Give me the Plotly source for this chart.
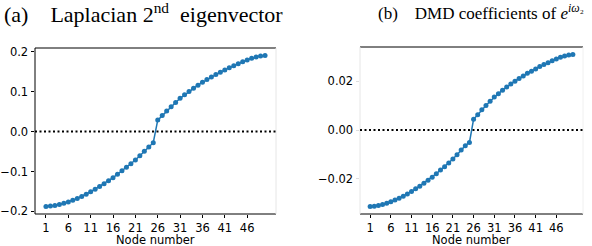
import plotly.graph_objects as go

nodes = list(range(1, 51))
xtick_vals = [1, 6, 11, 16, 21, 26, 31, 36, 41, 46]

laplacian_vec = [
    -0.1875, -0.1866, -0.1850, -0.1826, -0.1797, -0.1762, -0.1721, -0.1675, -0.1624, -0.1568,
    -0.1508, -0.1444, -0.1376, -0.1305, -0.1231, -0.1154, -0.1070, -0.0984, -0.0896, -0.0806,
    -0.0713, -0.0605, -0.0494, -0.0385, -0.0280,
    0.0285, 0.0400, 0.0510, 0.0618, 0.0725, 0.0830, 0.0918, 0.1002, 0.1082, 0.1158,
    0.1230, 0.1298, 0.1362, 0.1424, 0.1484, 0.1540, 0.1596, 0.1648, 0.1698, 0.1746,
    0.1790, 0.1830, 0.1862, 0.1886, 0.1900,
]

dmd_coef = [
    -0.0313, -0.0312, -0.0309, -0.0305, -0.0300, -0.0294, -0.0287, -0.0280, -0.0271, -0.0262,
    -0.0252, -0.0241, -0.0230, -0.0218, -0.0206, -0.0193, -0.0179, -0.0164, -0.0150, -0.0135,
    -0.0119, -0.0101, -0.0082, -0.0064, -0.0051,
    0.0044, 0.0063, 0.0083, 0.0100, 0.0118, 0.0135, 0.0149, 0.0163, 0.0176, 0.0188,
    0.0200, 0.0211, 0.0221, 0.0232, 0.0241, 0.0250, 0.0260, 0.0268, 0.0276, 0.0284,
    0.0291, 0.0298, 0.0303, 0.0307, 0.0309,
]

ya_ticks = [-0.2, -0.1, 0.0, 0.1, 0.2]
yb_ticks = [-0.02, 0.0, 0.02]

title_a = "(a)&nbsp;&nbsp;&nbsp; Laplacian 2<sup>nd</sup>&nbsp; eigenvector"
title_b = "(b)&nbsp;&nbsp;&nbsp; DMD coefficients of <i>e</i><sup><i>iω</i>₂</sup>"
x_title = "Node number"

W, H = 592, 246
C0 = "#1f77b4"
FS = 11.5
tick_font = dict(family="DejaVu Sans", size=FS, color="black")

fig = go.Figure()
fig.add_trace(go.Scatter(x=nodes, y=laplacian_vec, mode="lines+markers",
                         line=dict(color=C0, width=1.5), marker=dict(size=5, color=C0),
                         xaxis="x", yaxis="y", showlegend=False))
fig.add_trace(go.Scatter(x=nodes, y=dmd_coef, mode="lines+markers",
                         line=dict(color=C0, width=1.5), marker=dict(size=5, color=C0),
                         xaxis="x2", yaxis="y2", showlegend=False))

common_x = dict(range=[-1.45, 52.45], tickvals=xtick_vals, ticks="outside", ticklen=3,
                tickcolor="black", tickfont=tick_font, showgrid=False, zeroline=False,
                showline=False, automargin=False)
fig.update_layout(
    width=W, height=H,
    margin=dict(l=0, r=0, t=0, b=0, autoexpand=False),
    paper_bgcolor="white", plot_bgcolor="white",
    xaxis=dict(domain=[35/W, 276/W], anchor="y", **common_x),
    yaxis=dict(domain=[32/H, 198/H], anchor="x", range=[-0.2064, 0.2089],
               tickvals=ya_ticks, tickformat=".1f", ticks="outside", ticklen=3.5,
               tickcolor="black", tickfont=tick_font, showgrid=False, zeroline=False,
               showline=False, automargin=False),
    xaxis2=dict(domain=[360/W, 583/W], anchor="y2", **common_x),
    yaxis2=dict(domain=[32/H, 199/H], anchor="x2", range=[-0.0344, 0.0340],
                tickvals=yb_ticks, tickformat=".2f", ticks="outside", ticklen=3.5,
                tickcolor="#dddddd", tickfont=tick_font, showgrid=False, zeroline=False,
                showline=False, automargin=False),
)

def spines(xr, yr, left, right):
    dom = dict(xref=f"{xr} domain", yref=f"{yr} domain")
    fig.add_shape(type="line", x0=0, x1=1, y0=0, y1=0, line=dict(color="black", width=1), **dom)
    fig.add_shape(type="line", x0=0, x1=1, y0=1, y1=1, line=dict(color="black", width=1), **dom)
    fig.add_shape(type="line", x0=0, x1=0, y0=0, y1=1, line=dict(color=left, width=1), **dom)
    fig.add_shape(type="line", x0=1, x1=1, y0=0, y1=1, line=dict(color=right, width=1), **dom)

spines("x", "y", "black", "#e6e6e6")
spines("x2", "y2", "#e6e6e6", "#f0f0f0")

for xr, yr in (("x", "y"), ("x2", "y2")):
    fig.add_shape(type="line", xref=f"{xr} domain", yref=yr, x0=0, x1=1, y0=0, y1=0,
                  line=dict(color="black", width=2, dash="2px,2.5px"))

for xr, yr in (("x", "y"), ("x2", "y2")):
    fig.add_annotation(text=x_title, xref=f"{xr} domain", yref="paper", x=0.5, y=1 - 240/H,
                       xanchor="center", yanchor="middle", showarrow=False,
                       font=dict(family="DejaVu Sans", size=FS, color="black"))

fig.add_annotation(text=title_a, xref="paper", yref="paper", x=2/W, y=1 + 3/H,
                   xanchor="left", yanchor="top", showarrow=False,
                   font=dict(family="Liberation Serif", size=22, color="black"))
fig.add_annotation(text=title_b, xref="paper", yref="paper", x=376/W, y=1 + 1/H,
                   xanchor="left", yanchor="top", showarrow=False,
                   font=dict(family="Liberation Serif", size=17, color="black"))

fig.write_html("out.html", config={"displayModeBar": False},
               post_script="document.body.style.margin='0';document.body.style.overflow='hidden';")
